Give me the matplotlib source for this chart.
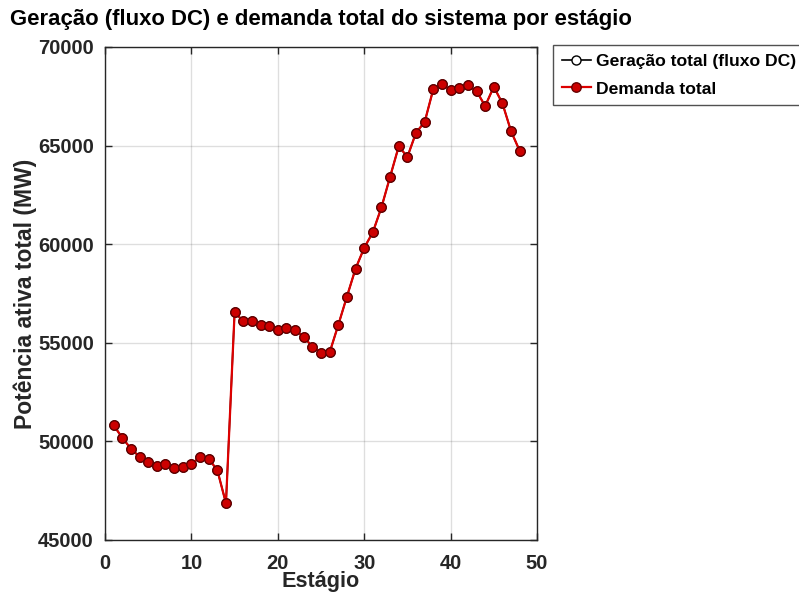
import matplotlib
matplotlib.use("Agg")
import matplotlib.pyplot as plt
import numpy as np

plt.rcParams['font.family'] = ['Liberation Sans', 'DejaVu Sans']
plt.rcParams['font.weight'] = 'bold'

estagios = list(range(1, 49))
demanda = [50814, 50186, 49627, 49220, 48966, 48729, 48847, 48661, 48712, 48864,
           49186, 49119, 48542, 46864, 56542, 56102, 56119, 55898, 55864, 55644,
           55763, 55644, 55304, 54798, 54500, 54510, 55904, 57343, 58760, 59815,
           60607, 61872, 63423, 64966, 64427, 65658, 66197, 67866, 68136, 67816,
           67900, 68052, 67765, 67006, 67984, 67141, 65725, 64730]
geracao = list(demanda)

xticks = [0, 10, 20, 30, 40, 50]
yticks = [45000, 50000, 55000, 60000, 65000, 70000]

fig = plt.figure(figsize=(7.99, 5.97), dpi=100)
ax = fig.add_axes([105/799, 1-540/597, (537-105)/799, (540-47)/597])

txt = '#262626'
ax.plot(estagios, geracao, '-o', color='black', lw=1.2, ms=6.5,
        mfc='white', mec='black', label='Geração total (fluxo DC)')
ax.plot(estagios, demanda, '-o', color='#dd0000', lw=1.6, ms=6.8,
        mfc='#cc0000', mec='#660000', mew=1.0, label='Demanda total')

ax.set_xlim(0, 50)
ax.set_ylim(45000, 70000)
ax.set_xticks(xticks)
ax.set_yticks(yticks)
ax.grid(True, color='#262626', alpha=0.15, lw=1.0)
ax.set_axisbelow(True)
ax.tick_params(direction='in', top=True, right=True, length=5, width=1.0,
               colors=txt, labelsize=14.5)
ax.tick_params(axis='x', pad=10)
ax.tick_params(axis='y', pad=8)
for lbl in ax.get_xticklabels() + ax.get_yticklabels():
    lbl.set_fontweight('bold')
for s in ax.spines.values():
    s.set_color(txt)
    s.set_linewidth(1.0)

ax.set_xlabel('Estágio', fontsize=15.6, fontweight='bold', color=txt, labelpad=-1)
ax.set_ylabel('Potência ativa total (MW)', fontsize=16.5, fontweight='bold', color=txt, labelpad=1)
fig.text(10/799, 1-20/597, 'Geração (fluxo DC) e demanda total do sistema por estágio',
         fontsize=15.9, fontweight='bold', color='black', va='center', ha='left')

leg = fig.legend(loc='upper left', bbox_to_anchor=(553/799, 1-45/597),
                 fontsize=12.6, frameon=True, fancybox=False, edgecolor=txt,
                 handlelength=1.65, handletextpad=0.3, borderpad=0.5, labelspacing=0.7,
                 borderaxespad=0)
leg.get_frame().set_linewidth(1.0)
for t in leg.get_texts():
    t.set_fontweight('bold')
    t.set_color('black')

fig.savefig('out.png', dpi=100)
